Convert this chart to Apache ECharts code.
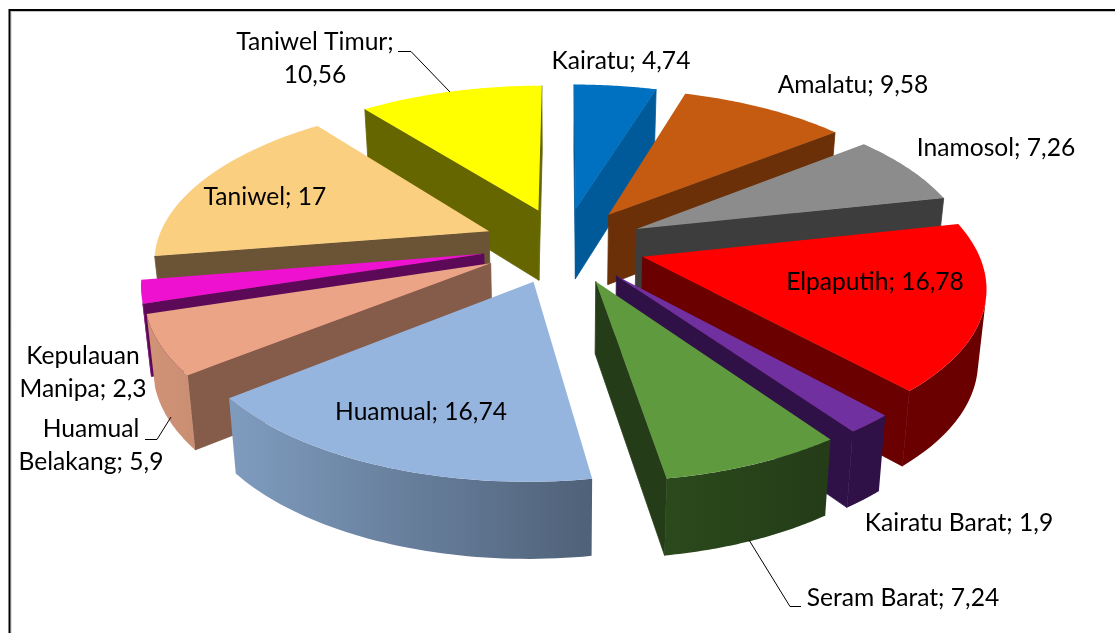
<!DOCTYPE html>
<html>
<head>
<meta charset="utf-8">
<style>
  html, body { margin: 0; padding: 0; background: #fff; }
  #chart { width: 1115px; height: 633px; }
</style>
<script src="https://cdn.jsdelivr.net/npm/echarts@6/dist/echarts.min.js"></script>
</head>
<body>
<div id="chart"></div>
<script>
const names = ['Kairatu', 'Amalatu', 'Inamosol', 'Elpaputih', 'Kairatu Barat', 'Seram Barat', 'Huamual', 'Huamual Belakang', 'Kepulauan Manipa', 'Taniwel', 'Taniwel Timur']
const values = [4.74, 9.58, 7.26, 16.78, 1.9, 7.24, 16.74, 5.9, 2.3, 17, 10.56]

const topColors = ['#0070c0', '#c55a11', '#8c8c8c', '#ff0000', '#7030a0', '#609a3e', '#95b5df', '#eba586', '#ee12d0', '#fbcf80', '#ffff00']
const sideColors = ['#005a9a', '#6b3008', '#3d3d3d', '#6a0000', '#2f1147', '#243c18', '#6f86a6', '#855b4a', '#5c0a58', '#6b5435', '#666600']
const outerStart = ['#005a9a', '#6b3008', '#3d3d3d', '#6a0000', '#2f1147', '#2b4a1c', '#7f9cbf', '#d29377', '#8a0a80', '#6b5435', '#666600']
const outerEnd = ['#005a9a', '#6b3008', '#3d3d3d', '#6a0000', '#2f1147', '#243c18', '#4f6178', '#c98e72', '#8a0a80', '#6b5435', '#666600']

// label centres, in page pixels
const labelX = [621, 853, 996, 875, 959, 903, 421, 91, 83, 265, 315]
const labelY = [61, 85, 148, 282, 523, 598, 412, 446, 373, 197, 59]
const labelBreak = [null, null, null, null, null, null, null, 'Huamual ', 'Kepulauan ', null, '; ']

// leader lines drawn by excel next to the outer labels
const leaders = [
  [[398, 51.5], [411, 51.5], [450, 92]],
  [[749, 540], [790, 606.5], [801, 606.5]],
  [[145, 439.5], [157, 439.5], [171, 417]]
]

// perspective of the pie, fitted by hand against the picture
const CX = 564
const CY = 245
const RADIUS = 333
const PERSP = 0.16
const TILT = 0.465
const EXPLODE = 0.245
const DEPTH = 71
const DEPTH_PERSP = 0.07
const BOTTOM_SHRINK = 0.98

const total = values.reduce((a, b) => a + b, 0)
let acc = 0
const slices = values.map(v => {
  const t0 = acc / total * Math.PI * 2
  acc += v
  const t1 = acc / total * Math.PI * 2
  return { t0, t1, mid: (t0 + t1) / 2 }
})

// r = distance from the slice apex, down = true for the lower edge of the side walls
function project(slice, t, r, down) {
  const wx = Math.sin(t) * r + Math.sin(slice.mid) * EXPLODE
  const wy = -Math.cos(t) * r - Math.cos(slice.mid) * EXPLODE
  const s = RADIUS / (1 - PERSP * wy)
  const drop = down ? DEPTH * (1 + DEPTH_PERSP * wy) : 0
  const shrink = down ? BOTTOM_SHRINK : 1
  return [CX + wx * s * shrink, CY + wy * TILT * s + drop]
}

function facesViewer(a, b, slice, ta, ra, tb, rb) {
  const c = project(slice, tb, rb, true)
  const d = project(slice, ta, ra, true)
  const pts = [a, b, c, d]
  let area = 0
  for (let i = 0; i < 4; i++) {
    const p = pts[i]
    const q = pts[(i + 1) % 4]
    area += p[0] * q[1] - q[0] * p[1]
  }
  return area < 0
}

// slices further back get painted first
const order = slices.map((s, i) => i).sort((a, b) => Math.cos(slices[b].mid) - Math.cos(slices[a].mid))

function renderSlice(params, api) {
  const i = params.dataIndex
  const slice = slices[i]
  const rank = order.indexOf(i) * 10 + 1
  const children = []
  const STEPS = 48

  // flat radial walls, the stroke closes the seam to the outer wall
  const walls = [[slice.t0, 0, slice.t0, 1], [slice.t1, 1, slice.t1, 0]]
  walls.forEach(w => {
    const a = project(slice, w[0], w[1], false)
    const b = project(slice, w[2], w[3], false)
    if (!facesViewer(a, b, slice, w[0], w[1], w[2], w[3])) return
    children.push({
      type: 'polygon',
      z2: rank,
      shape: { points: [a, b, project(slice, w[2], w[3], true), project(slice, w[0], w[1], true)] },
      style: { fill: sideColors[i], stroke: sideColors[i], lineWidth: 0.8 }
    })
  })

  // rounded outer wall, only the part turned to the viewer
  const upper = []
  const lower = []
  for (let k = 0; k < STEPS; k++) {
    const ta = slice.t0 + (slice.t1 - slice.t0) * k / STEPS
    const tb = slice.t0 + (slice.t1 - slice.t0) * (k + 1) / STEPS
    const a = project(slice, ta, 1, false)
    const b = project(slice, tb, 1, false)
    if (facesViewer(a, b, slice, ta, 1, tb, 1)) {
      if (!upper.length) {
        upper.push(a)
        lower.push(project(slice, ta, 1, true))
      }
      upper.push(b)
      lower.push(project(slice, tb, 1, true))
    }
  }
  if (upper.length) {
    children.push({
      type: 'polygon',
      z2: rank + 1,
      shape: { points: upper.concat(lower.reverse()) },
      style: {
        fill: new echarts.graphic.LinearGradient(0, 0, 1, 0, [
          { offset: 0, color: outerStart[i] },
          { offset: 1, color: outerEnd[i] }
        ])
      }
    })
  }

  // top face
  const face = [project(slice, slice.t0, 0, false)]
  for (let k = 0; k <= STEPS; k++) {
    face.push(project(slice, slice.t0 + (slice.t1 - slice.t0) * k / STEPS, 1, false))
  }
  children.push({
    type: 'polygon',
    z2: rank + 2,
    shape: { points: face },
    style: { fill: topColors[i] }
  })

  // label
  let text = names[i] + '; ' + String(api.value(0)).replace('.', ',')
  if (labelBreak[i]) text = text.replace(labelBreak[i], labelBreak[i].trimEnd() + '\n')
  children.push({
    type: 'text',
    z2: 500,
    style: {
      text: text,
      x: labelX[i],
      y: labelY[i],
      align: 'center',
      verticalAlign: 'middle',
      font: '24.6px Lato',
      lineHeight: 33,
      fill: '#000'
    }
  })

  return { type: 'group', children: children }
}

const chart = echarts.init(document.getElementById('chart'), null, { renderer: 'canvas' })
chart.setOption({
  backgroundColor: '#fff',
  animation: false,
  tooltip: { show: false },
  graphic: [
    // only the top and left sides of the frame are inside the crop
    {
      type: 'polyline',
      z: 0,
      shape: { points: [[1115, 11.5], [11, 11.5], [11, 633]] },
      style: { fill: 'none', stroke: '#c4c4c4', lineWidth: 1 }
    },
    {
      type: 'polyline',
      z: 0,
      shape: { points: [[1115, 10], [9.5, 10], [9.5, 633]] },
      style: { fill: 'none', stroke: '#000', lineWidth: 2 }
    }
  ].concat(leaders.map(points => ({
    type: 'polyline',
    z: 10,
    shape: { points: points },
    style: { fill: 'none', stroke: '#000', lineWidth: 1 }
  }))),
  series: [
    {
      type: 'custom',
      coordinateSystem: 'none',
      silent: true,
      data: values.map(v => [v]),
      renderItem: renderSlice
    }
  ]
})
</script>
</body>
</html>
